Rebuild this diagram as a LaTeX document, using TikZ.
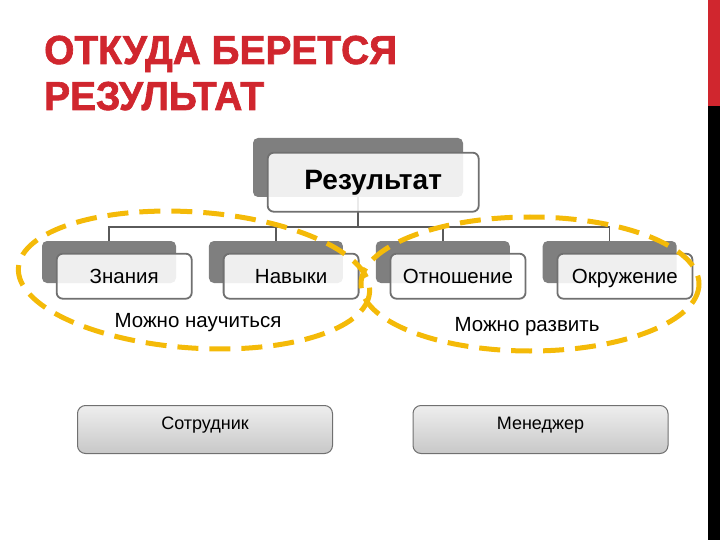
\documentclass[tikz,border=0pt]{standalone}
\usepackage{fontspec}
\setmainfont{Liberation Sans}
\newfontfamily\headfont[FakeStretch=0.96,FakeBold=1.6]{Liberation Sans}
\usetikzlibrary{positioning}
\definecolor{TitleRed}{RGB}{208,38,46}
\definecolor{BackGray}{RGB}{127,127,127}
\definecolor{EdgeGray}{RGB}{112,112,112}
\definecolor{LineGray}{RGB}{90,90,90}
\definecolor{RingGold}{RGB}{244,186,8}
\definecolor{ShadeTop}{RGB}{238,238,238}
\definecolor{ShadeBot}{RGB}{200,200,200}
\tikzset{
  headline/.style={anchor=base west,inner sep=0pt,text=TitleRed,
    font=\headfont\bfseries\fontsize{40.5}{46}\selectfont},
  backbox/.style={fill=BackGray,rounded corners=5pt,inner sep=0pt,
    minimum width=134pt,minimum height=42pt},
  frontbox/.style={draw=EdgeGray,line width=1.8pt,fill=white,fill opacity=0.88,
    text opacity=1,rounded corners=6pt,anchor=north west,inner sep=0pt,
    text height=19pt,text depth=4pt,
    minimum width=135pt,minimum height=45pt,font=\fontsize{20.5}{25}\selectfont},
  topback/.style={backbox,minimum width=210pt,minimum height=59pt},
  topfront/.style={frontbox,minimum width=211pt,minimum height=59pt,
    text height=21pt,text depth=6pt,
    font=\fontsize{28}{32}\selectfont\bfseries},
  tree/.style={draw=LineGray,line width=1.5pt},
  ring/.style={draw=RingGold,line width=5pt,dash pattern=on 21pt off 11pt},
  rolebox/.style={draw=EdgeGray,line width=1pt,rounded corners=8pt,
    top color=ShadeTop,bottom color=ShadeBot,
    minimum width=255pt,minimum height=48pt,text height=13pt,text depth=13pt,
    font=\fontsize{18}{22}\selectfont},
  note/.style={font=\fontsize{20.5}{24}\selectfont}
}
\begin{document}
\begin{tikzpicture}[x=1pt,y=-1pt]
  \useasboundingbox (0,0) rectangle (720,540);
  % side bar
  \fill[TitleRed] (708,0) rectangle (720,106);
  \fill[black] (708,106) rectangle (720,540);

  \node[headline] (head1) at (44,64) {ОТКУДА БЕРЕТСЯ};
  \node[headline] (head2) at (44,110) {РЕЗУЛЬТАТ};

  % back boxes
  \node[topback] (res) at (358,167.5) {};
  \node[backbox] (know) at (109,262) {};
  \node[backbox,right=32.5pt of know] (skill) {};
  \node[backbox,right=32.5pt of skill] (attit) {};
  \node[backbox,right=32.5pt of attit] (envir) {};

  \coordinate (bus) at (358,227);
  \draw[tree] (res.south) -- (bus);
  \draw[tree] (know.north) |- (envir.north |- bus) -- (envir.north);
  \draw[tree] (skill.north) -- (skill.north |- bus);
  \draw[tree] (attit.north) -- (attit.north |- bus);

  % front boxes
  \node[topfront] (resf) at ([xshift=14pt,yshift=-14pt]res.north west) {Результат};
  \node[frontbox] (knowf) at ([xshift=14pt,yshift=-12pt]know.north west) {Знания};
  \node[frontbox] (skillf) at ([xshift=14pt,yshift=-12pt]skill.north west) {Навыки};
  \node[frontbox] (attitf) at ([xshift=14pt,yshift=-12pt]attit.north west) {Отношение};
  \node[frontbox] (envirf) at ([xshift=14pt,yshift=-12pt]envir.north west) {Окружение};

  \node[note] (learn) at (198,323) {Можно научиться};
  \node[note] (grow) at (527,327) {Можно развить};

  \draw[ring,rotate around={-4:(194,280)}] (194,280) ellipse [x radius=176, y radius=68];
  \draw[ring] (530,284) ellipse [x radius=169, y radius=67];

  \node[rolebox] (staff) at (205,429.5) {Сотрудник};
  \node[rolebox] (boss) at (540.5,429.5) {Менеджер};
\end{tikzpicture}
\end{document}
